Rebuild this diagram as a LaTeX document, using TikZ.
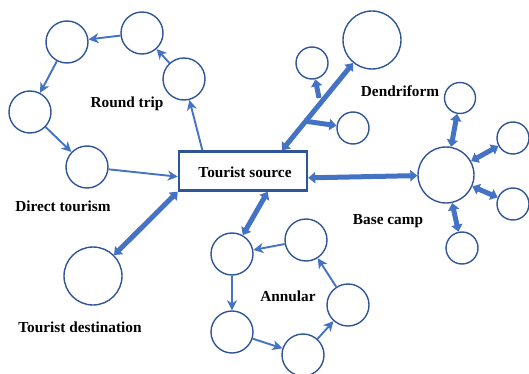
\documentclass[tikz,border=0pt]{standalone}
\usepackage{fontspec}
\setmainfont{Liberation Serif}
\usetikzlibrary{arrows.meta,calc}
\definecolor{cblue}{HTML}{2F5597}
\definecolor{ablue}{HTML}{4472C4}
\begin{document}
\begin{tikzpicture}[x=1pt,y=-1pt,
  circ/.style={circle,draw=cblue,line width=1.4pt,inner sep=0pt,minimum size=#1},
  circ/.default=42pt,
  thinarr/.style={draw=ablue,line width=1.9pt,-{Stealth[length=10pt,width=10pt,inset=3pt]}},
  thickarr/.style={draw=ablue,line width=5pt,{Triangle[length=7pt,width=11pt]}-{Triangle[length=7pt,width=11pt]}},
  thickone/.style={draw=ablue,line width=5pt,-{Triangle[length=7pt,width=11pt]}},
  lbl/.style={font=\bfseries\fontsize{15.3}{18}\selectfont,inner sep=0pt}]
\useasboundingbox (0,0) rectangle (529,374);
% central box
\node[draw=cblue,line width=2.4pt,minimum width=128pt,minimum height=39pt,inner sep=0pt,fill=white] (src) at (243,171) {};
\node[lbl] (srct) at (245,172) {Tourist source};
% round trip
\node[circ] (r1) at (142,33) {};
\node[circ] (r2) at (67,42) {};
\node[circ] (r3) at (30,112) {};
\node[circ] (r4) at (87,167) {};
\node[circ] (r5) at (184,79) {};
\draw[thinarr] (src.153) -- (r5);
\draw[thinarr] (r5) -- (r1);
\draw[thinarr] (r1) -- (r2);
\draw[thinarr] (r2) -- (r3);
\draw[thinarr] (r3) -- (r4);
\draw[thinarr] (r4) -- (src.185);
\node[lbl] (rtl) at (127,104) {Round trip};
% dendriform
\node[circ=58pt] (d0) at (372,40) {};
\node[circ=32pt] (d1) at (312,63) {};
\node[circ=32pt] (d2) at (353,128) {};
\draw[thickarr] (src.28) -- (d0);
\coordinate (b1) at (319,98);
\coordinate (b2) at (304,121);
\draw[thickone] (b1) -- (d1);
\draw[thickone] (b2) -- (d2);
\node[lbl] (dfl) at (400,91) {Dendriform};
% base camp
\node[circ=56pt] (c0) at (446,175) {};
\node[circ=31pt] (c1) at (460,98) {};
\node[circ=32pt] (c2) at (513,138) {};
\node[circ=32pt] (c3) at (513,204) {};
\node[circ=32pt] (c4) at (462,248) {};
\draw[thickarr] (src.354) -- (c0);
\draw[thickarr] (c0) -- (c1);
\draw[thickarr] (c0) -- (c2);
\draw[thickarr] (c0) -- (c3);
\draw[thickarr] (c0) -- (c4);
\node[lbl] (bcl) at (388,221) {Base camp};
% direct tourism
\node[circ=58pt] (dest) at (93,276) {};
\draw[thickarr] (src.south west) -- (dest);
\node[lbl] (dtl) at (63,206) {Direct tourism};
\node[lbl] (tdl) at (80,327) {Tourist destination};
% annular
\node[circ] (a1) at (232,254) {};
\node[circ] (a2) at (306,240) {};
\node[circ] (a3) at (348,305) {};
\node[circ] (a4) at (303,355) {};
\node[circ] (a5) at (232,332) {};
\draw[thickarr] (src.320) -- (a1);
\draw[thinarr] (a2) -- (a1);
\draw[thinarr] (a1) -- (a5);
\draw[thinarr] (a5) -- (a4);
\draw[thinarr] (a4) -- (a3);
\draw[thinarr] (a3) -- (a2);
\node[lbl] (anl) at (288,296) {Annular};
\end{tikzpicture}
\end{document}
